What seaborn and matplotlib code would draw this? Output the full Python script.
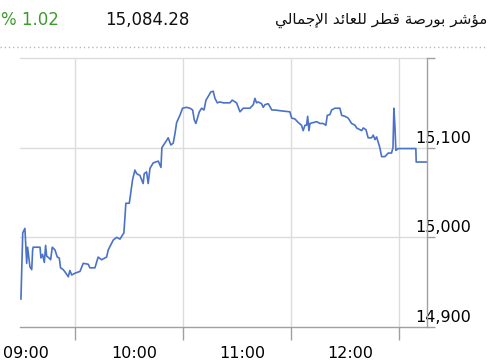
import matplotlib
matplotlib.use("Agg")
import matplotlib.pyplot as plt
import matplotlib.transforms as mtransforms
from matplotlib.lines import Line2D
import seaborn as sns
import pandas as pd

# ---------------- data ----------------
# minutes after 09:00
minutes = [30, 31, 32.2, 33.2, 33.7, 35, 36, 36.5, 36.8, 40.6, 41.1, 42, 43, 43.7, 44.3,
           45.6, 46.5, 47.4, 48.9, 50.2, 51.3, 52, 53.5, 55, 56.3, 57.2, 58.2, 60,
           62.8, 64.6, 67.4, 68.3, 71.1, 72.9, 74.8, 77.6, 78.5, 81.3, 83.2, 85,
           87.2, 88.3, 90.2, 92, 93.3, 94.3, 96.1, 97.9, 98.5, 99.8, 100.7, 101.7,
           103.5, 106.3, 107.8, 108.3, 110.9, 111.8, 113.3, 114.6, 115.6, 116.5,
           118.3, 119.8, 122, 123.9, 125.4, 126.3, 127.2, 129.1, 130.4, 131.7,
           132.8, 134.6, 135.4, 136.8, 137.8, 139.1, 140.6, 142.4, 146.1, 147.4,
           149.8, 151.7, 153.5, 155, 157.2, 159.1, 160, 160.9, 161.8, 163.7, 164.6,
           165.6, 167.4, 169.4, 171.1, 174.8, 179.4, 180.4, 182.2, 184.1, 185.9,
           186.8, 187.8, 188.7, 189.3, 190, 190.6, 192.4, 194.3, 196.1, 197.9,
           199.4, 200.2, 201.7, 202.6, 204.4, 207.2, 208.2, 210, 211.8, 213.7,
           215.6, 216.5, 218.3, 219.3, 220.2, 221.7, 222.9, 224.8, 225.7, 226.7,
           227.6, 228.5, 229.4, 230.4, 232.2, 234.1, 235.9, 236.7, 237.2, 237.8,
           238.3, 239.6, 249.4, 249.6, 255.5]
values = [14931, 15005, 15010, 14971, 14989, 14967, 14964, 14986, 14989, 14989, 14977,
          14981, 14972, 14991, 14979, 14977, 14975, 14989, 14986, 14978, 14977, 14966,
          14964, 14960, 14956, 14963, 14958, 14960, 14962, 14971, 14970, 14966, 14966,
          14978, 14975, 14978, 14986, 14997, 15000, 14998, 15005, 15038, 15038, 15064,
          15075, 15071, 15069, 15060, 15071, 15073, 15060, 15077, 15083, 15085, 15078,
          15100, 15108, 15111, 15103, 15105, 15116, 15128, 15136, 15144, 15145, 15144,
          15142, 15131, 15127, 15140, 15144, 15142, 15153, 15159, 15162, 15163, 15155,
          15150, 15151, 15150, 15150, 15153, 15150, 15140, 15144, 15144, 15144, 15148,
          15155, 15150, 15151, 15149, 15145, 15148, 15149, 15142, 15142, 15141, 15140,
          15133, 15132, 15128, 15125, 15119, 15125, 15125, 15135, 15119, 15127, 15128,
          15129, 15127, 15127, 15125, 15136, 15137, 15142, 15144, 15144, 15136, 15135,
          15133, 15127, 15125, 15122, 15120, 15119, 15122, 15120, 15111, 15111, 15114,
          15109, 15112, 15106, 15100, 15090, 15090, 15094, 15094, 15100, 15144, 15123,
          15097, 15099, 15099, 15084, 15084]

y_ticks = [14900, 15000, 15100, 15200]
y_tick_labels = ["14,900", "15,000", "15,100", ""]
hour_ticks = [60, 120, 180, 240]
x_label_pos = [33, 93, 153, 213]
x_labels = ["09:00", "10:00", "11:00", "12:00"]

title_ar = "مؤشر بورصة قطر للعائد الإجمالي"
last_value = "15,084.28"
change_text = "% 1.02"

# ---------------- minimal Arabic shaping ----------------
FORMS = {
    'ا': ('\uFE8D', '\uFE8E', None, None),
    'إ': ('\uFE87', '\uFE88', None, None),
    'ب': ('\uFE8F', '\uFE90', '\uFE91', '\uFE92'),
    'ة': ('\uFE93', '\uFE94', None, None),
    'ج': ('\uFE9D', '\uFE9E', '\uFE9F', '\uFEA0'),
    'د': ('\uFEA9', '\uFEAA', None, None),
    'ر': ('\uFEAD', '\uFEAE', None, None),
    'ش': ('\uFEB5', '\uFEB6', '\uFEB7', '\uFEB8'),
    'ص': ('\uFEB9', '\uFEBA', '\uFEBB', '\uFEBC'),
    'ط': ('\uFEC1', '\uFEC2', '\uFEC3', '\uFEC4'),
    'ع': ('\uFEC9', '\uFECA', '\uFECB', '\uFECC'),
    'ق': ('\uFED5', '\uFED6', '\uFED7', '\uFED8'),
    'ل': ('\uFEDD', '\uFEDE', '\uFEDF', '\uFEE0'),
    'م': ('\uFEE1', '\uFEE2', '\uFEE3', '\uFEE4'),
    'و': ('\uFEED', '\uFEEE', None, None),
    'ي': ('\uFEF1', '\uFEF2', '\uFEF3', '\uFEF4'),
    'ؤ': ('\uFE85', '\uFE86', None, None),
    'ئ': ('\uFE89', '\uFE8A', '\uFE8B', '\uFE8C'),
    'لإ': ('\uFEF9', '\uFEFA', None, None),
    'لا': ('\uFEFB', '\uFEFC', None, None),
}


def shape(text):
    toks = []
    i = 0
    while i < len(text):
        if text[i] == 'ل' and i + 1 < len(text) and text[i + 1] in 'اإ':
            toks.append(text[i:i + 2])
            i += 2
        else:
            toks.append(text[i])
            i += 1
    out = []
    for k, t in enumerate(toks):
        if t not in FORMS:
            out.append(t)
            continue
        prev = toks[k - 1] if k > 0 else None
        nxt = toks[k + 1] if k + 1 < len(toks) else None
        jp = prev in FORMS and FORMS[prev][2] is not None
        jn = FORMS[t][2] is not None and nxt in FORMS
        idx = 3 if (jp and jn) else 1 if jp else 2 if jn else 0
        out.append(FORMS[t][idx])
    return "".join(reversed(out))


# ---------------- plot ----------------
sns.set_style("white")
plt.rcParams['font.family'] = ['DejaVu Sans']

W, H = 488, 360
fig = plt.figure(figsize=(W / 100, H / 100), dpi=100)
ax = fig.add_axes([19.5 / W, 1 - 327 / H, (427 - 19.5) / W, (327 - 58) / H])

df = pd.DataFrame({"minute": minutes, "value": values})
sns.lineplot(data=df, x="minute", y="value", ax=ax, color="#4a72c8", linewidth=1.2)

ax.set_xlim(29.2, 255.6)
ax.set_ylim(14900, 15200)
ax.set_xlabel("")
ax.set_ylabel("")

grid_c = "#dcdcdc"
for yv in y_ticks[1:]:
    ax.axhline(yv, color=grid_c, linewidth=1, zorder=0, clip_on=False)
for xv in hour_ticks:
    ax.axvline(xv, color=grid_c, linewidth=1, zorder=0)

for s in ["left", "top"]:
    ax.spines[s].set_visible(False)
ax.spines["bottom"].set_color("#a0a0a0")
ax.spines["right"].set_color("#a0a0a0")
ax.spines["bottom"].set_linewidth(1)
ax.spines["right"].set_linewidth(1)

ax.set_xticks(hour_ticks)
ax.set_xticklabels([])
ax.set_xticks(x_label_pos, minor=True)
ax.set_xticklabels(x_labels, minor=True)
ax.tick_params(axis="x", which="major", length=9, width=1, color="#a0a0a0", bottom=True)
ax.tick_params(axis="x", which="minor", length=0, pad=14, labelsize=11.5, labelcolor="black")

ax.yaxis.tick_right()
ax.set_yticks(y_ticks)
ax.set_yticklabels(y_tick_labels)
ax.tick_params(axis="y", which="major", length=6, width=1, color="#a0a0a0", right=True,
               left=False, pad=2, labelsize=11.5, labelcolor="black")
off = mtransforms.ScaledTranslation(-23 / 100, 11 / 100, fig.dpi_scale_trans)
for lab in ax.get_yticklabels():
    lab.set_transform(lab.get_transform() + off)

# header
fig.add_artist(Line2D([0, 1], [1 - 47 / H, 1 - 47 / H], transform=fig.transFigure,
                      color="#b8b8b8", linewidth=1, linestyle=(0, (1, 2))))
hy = 1 - 20 / H
fig.text(0.002, hy, change_text, color="#3e9b2e", fontsize=12, ha="left", va="center")
fig.text(105 / W, hy, last_value, color="#111111", fontsize=12, ha="left", va="center")
fig.text(0.998, hy, shape(title_ar), color="#111111", fontsize=11, ha="right", va="center")

fig.savefig("out.png", dpi=100)
